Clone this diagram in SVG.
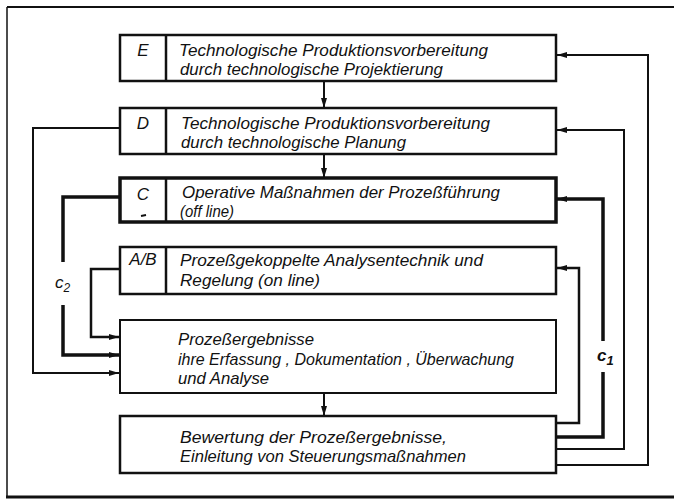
<svg xmlns="http://www.w3.org/2000/svg" width="674" height="500" viewBox="0 0 674 500">
<style>
.box{fill:#fff;stroke:#111;stroke-width:2.5}
.thick{stroke-width:3.5}
.div{stroke:#111;stroke-width:2.5}
.t{font-family:"Liberation Sans","DejaVu Sans",sans-serif;font-style:italic;font-size:17px;fill:#111}
.lab{font-family:"Liberation Sans","DejaVu Sans",sans-serif;font-style:italic;font-size:17px;fill:#111;text-anchor:middle}
.c{fill:none;stroke:#111;stroke-width:2}
.cm{stroke-width:2.5}
.ct{stroke-width:3.5}
</style>
<defs>
<marker id="ah" markerUnits="userSpaceOnUse" viewBox="0 0 10 6" markerWidth="10" markerHeight="6" refX="10" refY="3" orient="auto">
<path d="M0,0 L10,3 L0,6 z" fill="#111"/>
</marker>
</defs>
<rect width="674" height="500" fill="#fff"/>
<g id="frame" fill="none" stroke="#111">
<line x1="7" y1="7" x2="674" y2="7" stroke-width="2"/>
<line x1="7" y1="7" x2="7" y2="497" stroke-width="1.5"/>
<line x1="6" y1="497" x2="674" y2="497" stroke-width="3"/>
</g>
<g id="connectors">
<path class="c" d="M324 81 V108" marker-end="url(#ah)"/>
<path class="c" d="M324 154 V178" marker-end="url(#ah)"/>
<path class="c" d="M324 393 V416" marker-end="url(#ah)"/>
<path class="c cm" d="M556 423 H579 V268 H557" marker-end="url(#ah)"/>
<path class="c ct" d="M556 437 H603 V372"/>
<path class="c ct" d="M603 341 V199 H557" marker-end="url(#ah)"/>
<path class="c" d="M556 449 H624 V130 H557" marker-end="url(#ah)"/>
<path class="c" d="M556 465 H648 V55 H557" marker-end="url(#ah)"/>
<path class="c" d="M120 128 H33 V373 H119" marker-end="url(#ah)"/>
<path class="c ct" d="M120 197 H63 V262"/>
<path class="c ct" d="M63 305 V355 H119" marker-end="url(#ah)"/>
<path class="c cm" d="M120 269 H91 V337 H119" marker-end="url(#ah)"/>
<text class="t" x="597" y="361" font-size="19" font-weight="bold">c<tspan font-size="13" dy="4">1</tspan></text>
<text class="t" x="55" y="288">c<tspan font-size="12" dy="4">2</tspan></text>
</g>
<g id="nodeE">
<rect class="box" x="120" y="35" width="436" height="46"/>
<line class="div" x1="166" y1="35" x2="166" y2="81"/>
<text class="lab" x="143" y="56">E</text>
<text class="t" x="179" y="56" textLength="309" lengthAdjust="spacingAndGlyphs">Technologische Produktionsvorbereitung</text>
<text class="t" x="180" y="75" textLength="263" lengthAdjust="spacingAndGlyphs">durch technologische Projektierung</text>
</g>
<g id="nodeD">
<rect class="box" x="120" y="108" width="436" height="46"/>
<line class="div" x1="166" y1="108" x2="166" y2="154"/>
<text class="lab" x="143" y="129">D</text>
<text class="t" x="181" y="129" textLength="309" lengthAdjust="spacingAndGlyphs">Technologische Produktionsvorbereitung</text>
<text class="t" x="181" y="148" textLength="225" lengthAdjust="spacingAndGlyphs">durch technologische Planung</text>
</g>
<g id="nodeC">
<rect class="box thick" x="120" y="178" width="436" height="44"/>
<line class="div" x1="166" y1="178" x2="166" y2="222"/>
<text class="lab" x="143" y="200">C</text>
<line x1="141" y1="216" x2="146" y2="215" stroke="#111" stroke-width="2"/>
<text class="t" x="182" y="198" textLength="318" lengthAdjust="spacingAndGlyphs">Operative Maßnahmen der Prozeßführung</text>
<text class="t" x="180" y="217" textLength="54" lengthAdjust="spacingAndGlyphs">(off line)</text>
</g>
<g id="nodeAB">
<rect class="box" x="120" y="247" width="436" height="47"/>
<line class="div" x1="166" y1="247" x2="166" y2="294"/>
<text class="lab" x="143" y="265">A/B</text>
<text class="t" x="180" y="266" textLength="303" lengthAdjust="spacingAndGlyphs">Prozeßgekoppelte Analysentechnik und</text>
<text class="t" x="180" y="286" textLength="140" lengthAdjust="spacingAndGlyphs">Regelung (on line)</text>
</g>
<g id="nodeP">
<rect class="box" x="120" y="320" width="436" height="73" style="stroke-width:2"/>
<text class="t" x="178" y="345" textLength="136" lengthAdjust="spacingAndGlyphs">Prozeßergebnisse</text>
<text class="t" x="178" y="365" textLength="336" lengthAdjust="spacingAndGlyphs">ihre Erfassung , Dokumentation , Überwachung</text>
<text class="t" x="178" y="384" textLength="91" lengthAdjust="spacingAndGlyphs">und Analyse</text>
</g>
<g id="nodeBew">
<rect class="box" x="120" y="416" width="436" height="57"/>
<text class="t" x="180" y="443" textLength="267" lengthAdjust="spacingAndGlyphs">Bewertung der Prozeßergebnisse,</text>
<text class="t" x="180" y="462" textLength="286" lengthAdjust="spacingAndGlyphs">Einleitung von Steuerungsmaßnahmen</text>
</g>
</svg>
